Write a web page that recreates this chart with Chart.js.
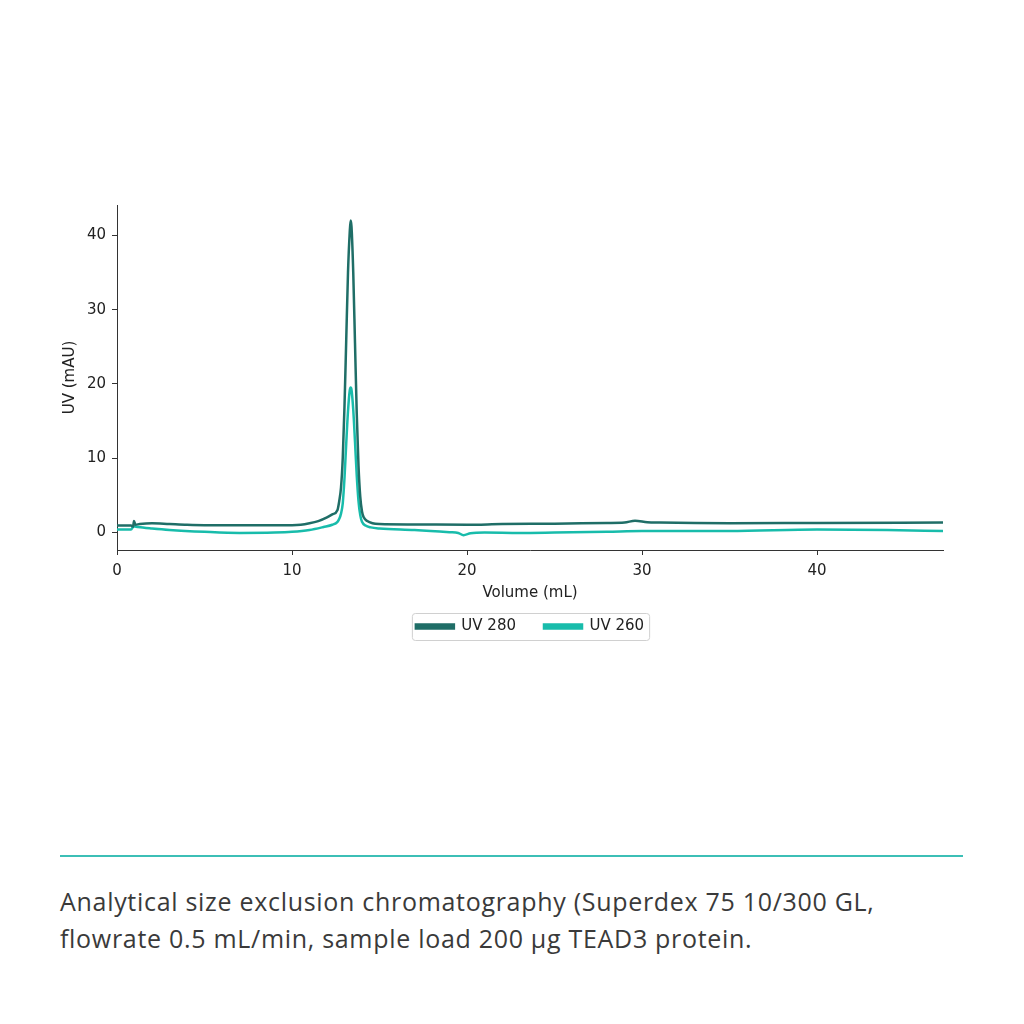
<!DOCTYPE html>
<html>
<head>
<meta charset="utf-8">
<script src="https://cdn.jsdelivr.net/npm/chart.js@4/dist/chart.umd.min.js"></script>
<style>
  html, body { margin: 0; padding: 0; background: #fff; }
  body { width: 1024px; height: 1024px; position: relative; overflow: hidden; }
  #wrap { position: absolute; left: 0; top: 0; width: 1024px; height: 700px; }
  #rule { position: absolute; left: 60px; top: 855px; width: 903px; height: 2px; background: #3cbfb6; }
  #caption { position: absolute; left: 60px; top: 883px; width: 940px; font-family: "Open Sans", sans-serif;
             font-size: 25px; letter-spacing: 0.7px; line-height: 37px; color: #3a3a3a; }
</style>
</head>
<body>
<div id="wrap"><canvas id="graph"></canvas></div>
<div id="rule"></div>
<div id="caption">Analytical size exclusion chromatography (Superdex 75 10/300 GL,<br>flowrate 0.5 mL/min, sample load 200 µg TEAD3 protein.</div>
<script>
// elution volume (mL) and absorbance (mAU)
const volume280 = [0, 0.8, 0.92, 0.97, 1.05, 1.3, 2, 3, 4, 5, 7, 9, 10, 10.5, 11, 11.5, 12, 12.3, 12.6, 12.7, 12.8, 12.9, 13.0, 13.1, 13.2, 13.3, 13.35, 13.4, 13.5, 13.6, 13.7, 13.8, 13.9, 14.0, 14.1, 14.3, 14.6, 15, 17, 20, 22, 25, 28, 29, 29.6, 30.3, 31, 35, 40, 47.2];
const uv280 = [0.9, 0.9, 0.75, 1.5, 1.0, 1.1, 1.2, 1.1, 1.0, 0.95, 0.95, 0.95, 0.95, 1.0, 1.2, 1.5, 2.0, 2.4, 3.0, 4.2, 6.0, 10.0, 17.0, 26.0, 35.0, 40.5, 42.0, 41.2, 35.0, 25.5, 16.0, 9.0, 4.8, 2.8, 2.0, 1.5, 1.2, 1.1, 1.05, 1.0, 1.1, 1.15, 1.25, 1.3, 1.55, 1.35, 1.3, 1.2, 1.25, 1.3];

const volume260 = [0, 0.8, 0.95, 1.2, 2, 3, 5, 7, 9, 10, 11, 11.8, 12.3, 12.6, 12.7, 12.8, 12.9, 13.0, 13.1, 13.2, 13.3, 13.35, 13.4, 13.5, 13.6, 13.7, 13.8, 13.9, 14.0, 14.2, 14.5, 15, 17, 19, 19.5, 19.8, 20.2, 21, 23, 25, 28, 30, 35, 40, 44, 47.2];
const uv260 = [0.35, 0.35, 0.8, 0.7, 0.5, 0.3, 0.05, -0.1, -0.05, 0.05, 0.3, 0.7, 1.0, 1.4, 1.8, 2.5, 3.9, 7.3, 12.0, 16.3, 19.1, 19.5, 19.2, 16.5, 12.2, 7.6, 4.2, 2.3, 1.4, 0.9, 0.65, 0.5, 0.3, 0.0, -0.1, -0.4, -0.15, -0.05, -0.1, -0.05, 0.05, 0.15, 0.15, 0.35, 0.3, 0.15];

const xTicks = [0, 10, 20, 30, 40];
const yTicks = [0, 10, 20, 30, 40];

const dark = '#1f6e67';
const light = '#18bcab';
const axisFont = { family: "'DejaVu Sans', sans-serif", size: 15 };

// matplotlib-style legend: centred under the plot area, with a thin frame
const legendBox = {
  id: 'legendBox',
  afterLayout(chart) {
    const lg = chart.legend;
    lg.left = chart.chartArea.left;
    lg.right = chart.chartArea.right;
    lg.width = lg.right - lg.left;
  },
  afterDraw(chart) {
    const boxes = chart.legend.legendHitBoxes;
    if (!boxes || !boxes.length) return;
    const left = Math.min(...boxes.map(b => b.left)) - 4;
    const right = Math.max(...boxes.map(b => b.left + b.width)) + 5;
    const top = boxes[0].top - 6;
    const bottom = boxes[0].top + boxes[0].height + 6;
    const ctx = chart.ctx;
    ctx.save();
    ctx.strokeStyle = '#d0d0d0';
    ctx.lineWidth = 1;
    ctx.beginPath();
    ctx.roundRect(left + 0.5, top + 0.5, right - left, bottom - top, 3);
    ctx.stroke();
    ctx.restore();
  }
};

new Chart(document.getElementById('graph').getContext('2d'), {
  type: 'line',
  data: {
    datasets: [
      { label: 'UV 280', data: volume280.map((v, i) => ({ x: v, y: uv280[i] })),
        borderColor: dark, backgroundColor: dark, borderWidth: 2.5, pointRadius: 0, cubicInterpolationMode: 'monotone' },
      { label: 'UV 260', data: volume260.map((v, i) => ({ x: v, y: uv260[i] })),
        borderColor: light, backgroundColor: light, borderWidth: 2.5, pointRadius: 0, cubicInterpolationMode: 'monotone' }
    ]
  },
  options: {
    responsive: true,
    maintainAspectRatio: false,
    animation: false,
    layout: { padding: { left: 40, right: 81, top: 205, bottom: 56 } },
    plugins: {
      tooltip: { enabled: false },
      legend: {
        position: 'bottom',
        labels: { boxWidth: 38, boxHeight: 4, padding: 28, color: '#222', font: axisFont }
      }
    },
    scales: {
      x: {
        type: 'linear', min: 0, max: 47.2,
        afterBuildTicks: s => { s.ticks = xTicks.map(v => ({ value: v })); },
        afterFit: s => { s.height = 41; },
        grid: { drawOnChartArea: false, color: '#333', tickLength: 5 },
        border: { color: '#333', width: 1 },
        ticks: { color: '#222', font: axisFont, padding: 7, maxRotation: 0 },
        title: { display: true, text: 'Volume (mL)', color: '#222', font: axisFont, padding: { top: 0, bottom: -11 } }
      },
      y: {
        type: 'linear', min: -2.4, max: 44.1,
        afterBuildTicks: s => { s.ticks = yTicks.map(v => ({ value: v })); },
        afterFit: s => { s.width = 77; },
        grid: { drawOnChartArea: false, color: '#333', tickLength: 5 },
        border: { color: '#333', width: 1 },
        ticks: { color: '#222', font: axisFont, padding: 6 },
        title: { display: true, text: 'UV (mAU)', color: '#222', font: axisFont, padding: { top: 21, bottom: 0 } }
      }
    }
  },
  plugins: [legendBox]
});
</script>
</body>
</html>
